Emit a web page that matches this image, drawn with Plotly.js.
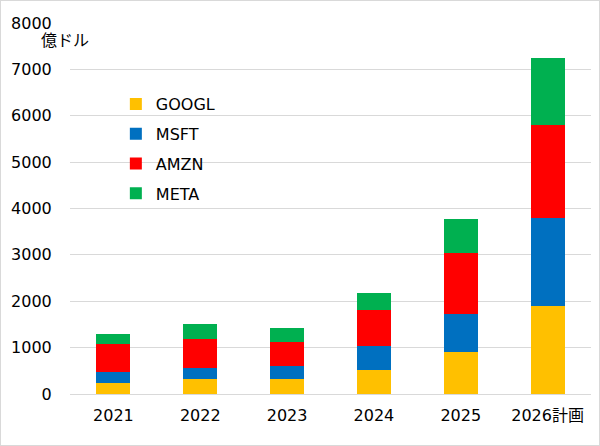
<!DOCTYPE html>
<html><head><meta charset="utf-8">
<script src="https://cdn.plot.ly/plotly-3.0.1.min.js"></script>
<style>html,body{margin:0;padding:0;background:#fff;}#chart{width:598px;height:444px;border:1px solid #d9d9d9;}</style>
</head><body><div id="chart"></div>
<script>
const categories = ["2021", "2022", "2023", "2024", "2025", "2026計画"];
const googl = [245, 315, 320, 525, 910, 1900];
const msft = [240, 240, 275, 515, 820, 1890];
const amzn = [595, 625, 530, 765, 1310, 2000];
const meta = [215, 325, 290, 375, 735, 1455];
const yTicks = [0, 1000, 2000, 3000, 4000, 5000, 6000, 7000, 8000];

const FONT = "Verdana, 'DejaVu Sans', 'Noto Sans CJK JP', sans-serif";
function tr(name, y, color, g) {
  return {type: 'bar', name: name, x: categories, y: y, marker: {color: color}, legendgroup: g, hoverinfo: 'y'};
}
const data = [
  tr('GOOGL', googl, '#FFC000', 'a'),
  tr('MSFT', msft, '#0070C0', 'b'),
  tr('AMZN', amzn, '#FF0000', 'c'),
  tr('META', meta, '#00B050', 'd')
];
const layout = {
  width: 598, height: 444,
  barmode: 'stack', bargap: 0.61,
  margin: {l: 69, r: 8, t: 22, b: 51},
  paper_bgcolor: '#fff', plot_bgcolor: '#fff',
  font: {family: FONT, size: 16, color: '#000'},
  xaxis: {type: 'category', tickfont: {size: 16}, ticks: '', showline: false, showgrid: false, ticklabelstandoff: 10},
  yaxis: {range: [0, 8000], tickvals: yTicks, ticktext: yTicks.map(String), gridcolor: '#d9d9d9', zeroline: true, zerolinecolor: '#d9d9d9', ticks: 'outside', ticklen: 14, tickcolor: 'rgba(0,0,0,0)', tickfont: {size: 16}},
  showlegend: true,
  legend: {x: 0.088, y: 0.8275, xanchor: 'left', yanchor: 'top', traceorder: 'grouped', tracegroupgap: 6, font: {size: 16}, bgcolor: 'rgba(0,0,0,0)'},
  annotations: [{text: '億ドル', xref: 'paper', yref: 'paper', x: -0.06, y: 0.952, xanchor: 'left', yanchor: 'middle', showarrow: false, font: {size: 16}}]
};
Plotly.newPlot('chart', data, layout, {displayModeBar: false, staticPlot: true});
</script></body></html>
